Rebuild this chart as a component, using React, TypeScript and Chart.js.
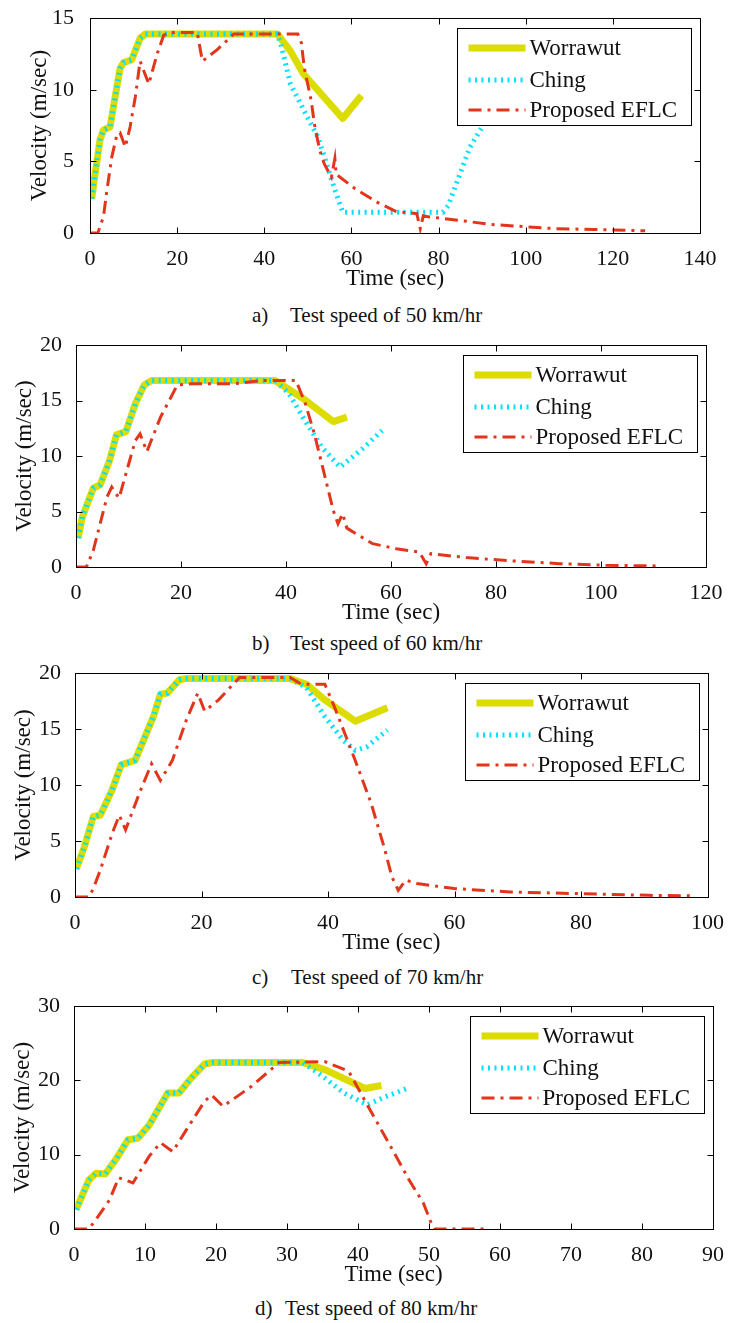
import React, { useEffect, useRef } from 'react';
import { Chart, registerables } from 'chart.js';

Chart.register(...registerables);

// ---------- Data ----------
// Panel a) 50 km/hr
const aWorT = [0.4, 1.2, 2.3, 3.1, 4.6, 5.6, 6.9, 7.7, 9.6, 11.5, 12.7, 43, 46, 49, 58, 62.3];
const aWorV = [2.4, 4.2, 6.5, 7.2, 7.4, 9.2, 11.5, 11.9, 12.1, 13.6, 13.9, 13.9, 12.7, 11.1, 8.0, 9.6];
const aChT = [0.4, 1.2, 2.3, 3.1, 4.6, 5.6, 6.9, 7.7, 9.6, 11.5, 12.7, 43, 43.8, 46, 49.2, 52.3, 53.8, 56, 58, 81, 82.2, 85, 87.2, 90.2, 94];
const aChV = [2.4, 4.2, 6.5, 7.2, 7.4, 9.2, 11.5, 11.9, 12.1, 13.6, 13.9, 13.9, 13.2, 10.4, 8.5, 6.7, 5.3, 3.2, 1.45, 1.45, 1.9, 4.2, 6.0, 7.5, 10.0];
const aEfT = [0, 1.8, 3.1, 3.8, 5, 6.2, 6.9, 8.1, 9.2, 10.4, 11.5, 13.5, 15.4, 16.9, 18, 24.6, 25.8, 29.2, 33, 47.7, 48.5, 49.2, 50.8, 51.5, 52.7, 53.8, 55.4, 56.2, 56.5, 60.8, 66.2, 70.3, 75, 75.8, 76.5, 77.3, 85.6, 91.8, 99.4, 107, 115.5, 127.4];
const aEfV = [0, 0, 1.15, 2.8, 5.3, 6.9, 7.0, 6.0, 7.4, 9.5, 12.0, 10.4, 12.5, 13.8, 14, 14, 12.0, 12.8, 13.9, 13.9, 13.3, 11.5, 9.2, 7.6, 5.8, 4.8, 3.9, 5.2, 4.1, 3.1, 2.1, 1.5, 1.35, 0.3, 1.2, 1.15, 0.85, 0.6, 0.45, 0.3, 0.25, 0.15];

// Panel b) 60 km/hr
const bWorT = [0.4, 1.2, 2.4, 3.3, 4.6, 6.4, 7.7, 9.5, 11.3, 13, 14.4, 37.9, 43.2, 49, 51.6];
const bWorV = [2.6, 4.5, 6.0, 7.1, 7.4, 9.6, 11.9, 12.2, 14.7, 16.4, 16.8, 16.8, 15.2, 13.1, 13.5];
const bChT = [0.4, 1.2, 2.4, 3.3, 4.6, 6.4, 7.7, 9.5, 11.3, 13, 14.4, 38, 40.6, 43.2, 46.8, 50.3, 54.7, 58.3];
const bChV = [2.6, 4.5, 6.0, 7.1, 7.4, 9.6, 11.9, 12.2, 14.7, 16.4, 16.8, 16.8, 15.6, 13.5, 10.8, 9.0, 10.7, 12.3];
const bEfT = [0, 2, 3.3, 5.9, 6.8, 8.2, 11.3, 12.2, 13.5, 16.1, 19.3, 22, 30, 35.2, 41.9, 43.7, 45.4, 47.6, 49, 49.9, 50.8, 51.6, 56.5, 61, 65.4, 66.7, 67.6, 74.3, 83.1, 92, 100.9, 110.6];
const bEfV = [0, 0, 1.5, 6.3, 7.2, 6.2, 11.4, 12.0, 10.4, 13.5, 16.4, 16.5, 16.5, 16.8, 16.8, 14.7, 12.0, 7.8, 5.1, 3.9, 4.8, 3.5, 2.1, 1.65, 1.35, 0.3, 1.2, 0.85, 0.55, 0.3, 0.15, 0.1];

// Panel c) 70 km/hr
const cWorT = [0.2, 1.5, 2.9, 4, 5.9, 7.3, 9.5, 12.4, 13.5, 14.6, 16.5, 17.5, 34, 36.6, 39.5, 44.3, 49.4];
const cWorV = [2.5, 4.5, 7.2, 7.3, 9.6, 11.8, 12.2, 16.1, 18.1, 18.2, 19.4, 19.5, 19.5, 19.0, 17.6, 15.7, 16.9];
const cChT = [0.2, 1.5, 2.9, 4, 5.9, 7.3, 9.5, 12.4, 13.5, 14.6, 16.5, 17.5, 34, 36.6, 39.5, 42.4, 44.3, 46.1, 49.4];
const cChV = [2.5, 4.5, 7.2, 7.3, 9.6, 11.8, 12.2, 16.1, 18.1, 18.2, 19.4, 19.5, 19.5, 18.7, 16.1, 14.0, 13.1, 13.4, 14.9];
const cEfT = [0, 2.2, 2.9, 4, 5.9, 7, 8, 10.2, 12.1, 13.5, 15.4, 17.6, 19.4, 20.5, 22.7, 26, 34, 35.8, 39.5, 41, 44.3, 46.8, 49, 50.1, 51.1, 52.3, 54.1, 60, 68.8, 79.7, 90.7, 97.3];
const cEfV = [0, 0, 0.75, 2.4, 5.7, 7.3, 6.0, 9.3, 11.9, 10.4, 12.2, 15.8, 18.2, 16.6, 17.6, 19.6, 19.6, 19.0, 19.0, 17.0, 12.2, 8.4, 4.2, 1.8, 0.6, 1.5, 1.2, 0.75, 0.45, 0.3, 0.15, 0.1];

// Panel d) 80 km/hr
const dWorT = [0.3, 2.1, 3.1, 4.4, 6, 7.6, 9, 10.6, 13.2, 14.8, 16.5, 18.4, 19.5, 32.2, 35.4, 41, 43.3];
const dWorV = [2.6, 6.6, 7.5, 7.4, 9.5, 12.0, 12.2, 14.0, 18.3, 18.3, 20.3, 22.2, 22.4, 22.4, 21.4, 18.9, 19.3];
const dChT = [0.3, 2.1, 3.1, 4.4, 6, 7.6, 9, 10.6, 13.2, 14.8, 16.5, 18.4, 19.5, 32.2, 34.8, 38, 41.3, 43.9, 46.9];
const dChV = [2.6, 6.6, 7.5, 7.4, 9.5, 12.0, 12.2, 14.0, 18.3, 18.3, 20.3, 22.2, 22.4, 22.4, 20.7, 18.3, 16.7, 17.8, 18.9];
const dEfT = [0, 2.1, 3.4, 5, 6.3, 8.3, 10.6, 12.2, 13.9, 15.8, 18.4, 19.4, 21, 25, 28.9, 35.4, 37.7, 38.7, 41.3, 44.6, 47.2, 49.2, 50.5, 50.8, 58];
const dEfV = [0, 0, 1.7, 3.9, 6.9, 6.2, 9.8, 11.6, 10.4, 13.3, 17.2, 18.0, 16.5, 19.2, 22.4, 22.5, 21.6, 21.2, 16.7, 11.1, 6.6, 3.5, 0.35, 0, 0];

const seriesLabels = ['Worrawut', 'Ching', 'Proposed EFLC'];
const xTitle = 'Time (sec)';
const yTitle = 'Velocity (m/sec)';

const panels = [
  { key: 'a', tag: 'a)', caption: 'Test speed of 50 km/hr', xMax: 140, xStep: 20, yMax: 15, yStep: 5,
    worT: aWorT, worV: aWorV, chT: aChT, chV: aChV, efT: aEfT, efV: aEfV },
  { key: 'b', tag: 'b)', caption: 'Test speed of 60 km/hr', xMax: 120, xStep: 20, yMax: 20, yStep: 5,
    worT: bWorT, worV: bWorV, chT: bChT, chV: bChV, efT: bEfT, efV: bEfV },
  { key: 'c', tag: 'c)', caption: 'Test speed of 70 km/hr', xMax: 100, xStep: 20, yMax: 20, yStep: 5,
    worT: cWorT, worV: cWorV, chT: cChT, chV: cChV, efT: cEfT, efV: cEfV },
  { key: 'd', tag: 'd)', caption: 'Test speed of 80 km/hr', xMax: 90, xStep: 10, yMax: 30, yStep: 10,
    worT: dWorT, worV: dWorV, chT: dChT, chV: dChV, efT: dEfT, efV: dEfV },
];

// ---------- Layout & style ----------
const layouts: Record<string, any> = {
  a: { L: 90, T: 17, R: 700, B: 233, yTitlePad: 26, yTickPad: 8, capTop: 305, capLeft: 252, tagW: 38 },
  b: { L: 76, T: 345, R: 706, B: 567, yTitlePad: 11, yTickPad: 6, capTop: 633, capLeft: 252, tagW: 38 },
  c: { L: 75, T: 673, R: 711, B: 897, yTitlePad: 10, yTickPad: 6, capTop: 967, capLeft: 252, tagW: 39 },
  d: { L: 74, T: 1006, R: 715, B: 1229, yTitlePad: 9, yTickPad: 6, capTop: 1298, capLeft: 255, tagW: 30 },
};

const W = 729;
const PAD_TOP = 20;
const X_AXIS_H = 60;
const SERIF = '"Liberation Serif", serif';
const TEXT = '#111';
const YELLOW = '#dcdc00';
const CYAN = '#00e1ff';
const RED = '#e2361c';

const framePlugin = {
  id: 'matlabFrame',
  afterDatasetsDraw(chart: any) {
    const { ctx, chartArea: a, scales } = chart;
    ctx.save();
    ctx.strokeStyle = '#000';
    ctx.lineWidth = 1;
    const l = Math.round(a.left) + 0.5;
    const r = Math.round(a.right) + 0.5;
    const t = Math.round(a.top) + 0.5;
    const b = Math.round(a.bottom) + 0.5;
    ctx.strokeRect(l, t, r - l, b - t);
    const TL = 6;
    ctx.beginPath();
    scales.x.ticks.forEach((tk: any) => {
      const px = Math.round(scales.x.getPixelForValue(tk.value)) + 0.5;
      ctx.moveTo(px, b); ctx.lineTo(px, b - TL);
      ctx.moveTo(px, t); ctx.lineTo(px, t + TL);
    });
    scales.y.ticks.forEach((tk: any) => {
      const py = Math.round(scales.y.getPixelForValue(tk.value)) + 0.5;
      ctx.moveTo(l, py); ctx.lineTo(l + TL, py);
      ctx.moveTo(r, py); ctx.lineTo(r - TL, py);
    });
    ctx.stroke();
    ctx.restore();
  },
};

const legendPlugin = {
  id: 'boxLegend',
  afterDraw(chart: any) {
    const { ctx, chartArea: a } = chart;
    const ds = chart.data.datasets;
    ctx.save();
    ctx.font = '23px ' + SERIF;
    const tw = Math.max(...ds.map((d: any) => ctx.measureText(d.label).width));
    const w = Math.round(72 + tw + 14);
    const h = 97;
    const x0 = Math.round(a.right - 9 - w) + 0.5;
    const y0 = Math.round(a.top + 10) + 0.5;
    ctx.fillStyle = '#fff';
    ctx.fillRect(x0, y0, w, h);
    ctx.strokeStyle = '#000';
    ctx.lineWidth = 1;
    ctx.strokeRect(x0, y0, w, h);
    const rows = [19, 51, 81];
    ds.forEach((d: any, i: number) => {
      const y = Math.round(y0 + rows[i]);
      ctx.save();
      ctx.strokeStyle = d.borderColor;
      ctx.lineWidth = d.borderWidth;
      ctx.lineCap = 'butt';
      ctx.setLineDash(d.borderDash || []);
      ctx.beginPath();
      ctx.moveTo(x0 + 11, y);
      ctx.lineTo(x0 + 68, y);
      ctx.stroke();
      ctx.restore();
      ctx.fillStyle = TEXT;
      ctx.textAlign = 'left';
      ctx.textBaseline = 'middle';
      ctx.fillText(d.label, x0 + 72, y + 1);
    });
    ctx.restore();
  },
};

function toPts(t: number[], v: number[]) {
  return t.map((x, i) => ({ x, y: v[i] }));
}

function Panel({ p }: { p: any }) {
  const ref = useRef<HTMLCanvasElement>(null);
  const lay = layouts[p.key];
  const h = lay.B - lay.T + PAD_TOP + X_AXIS_H;
  useEffect(() => {
    const canvas = ref.current!;
    const tickFont = { family: SERIF, size: 22 };
    const titleFont = { family: SERIF, size: 23 };
    const chart = new Chart(canvas, {
      type: 'line',
      data: {
        datasets: [
          { label: seriesLabels[0], data: toPts(p.worT, p.worV), borderColor: YELLOW, borderWidth: 7,
            borderJoinStyle: 'round', order: 3, pointRadius: 0, tension: 0, fill: false } as any,
          { label: seriesLabels[1], data: toPts(p.chT, p.chV), borderColor: CYAN, borderWidth: 5,
            borderDash: [2, 4.5], borderCapStyle: 'butt', order: 2, pointRadius: 0, tension: 0, fill: false } as any,
          { label: seriesLabels[2], data: toPts(p.efT, p.efV), borderColor: RED, borderWidth: 3,
            borderDash: [13, 6, 3, 6], borderCapStyle: 'butt', order: 1, pointRadius: 0, tension: 0, fill: false } as any,
        ],
      },
      options: {
        responsive: false,
        animation: false,
        devicePixelRatio: 1,
        events: [],
        layout: { padding: { top: PAD_TOP, left: 0, right: W - lay.R, bottom: 0 } },
        plugins: { legend: { display: false }, tooltip: { enabled: false }, title: { display: false } },
        scales: {
          x: {
            type: 'linear', min: 0, max: p.xMax,
            grid: { display: false }, border: { display: false },
            ticks: { stepSize: p.xStep, autoSkip: false, maxRotation: 0, padding: 5, color: TEXT, font: tickFont },
            title: { display: true, text: xTitle, color: TEXT, font: titleFont, padding: { top: 0, bottom: 0 } },
            afterFit: (s: any) => { s.height = X_AXIS_H; },
          },
          y: {
            type: 'linear', min: 0, max: p.yMax,
            grid: { display: false }, border: { display: false },
            ticks: { stepSize: p.yStep, autoSkip: false, padding: lay.yTickPad, color: TEXT, font: tickFont },
            title: { display: true, text: yTitle, color: TEXT, font: titleFont, padding: { top: lay.yTitlePad, bottom: 0 } },
            afterFit: (s: any) => { s.width = lay.L; },
          },
        },
      } as any,
      plugins: [framePlugin, legendPlugin],
    });
    return () => chart.destroy();
  }, [p]);
  return (
    <>
      <canvas
        ref={ref}
        width={W}
        height={h}
        style={{ position: 'absolute', left: 0, top: lay.T - PAD_TOP, width: W, height: h }}
      />
      <div
        style={{
          position: 'absolute', left: lay.capLeft, top: lay.capTop, fontFamily: SERIF, fontSize: 21,
          lineHeight: '21px', color: TEXT, whiteSpace: 'pre',
        }}
      >
        <span style={{ display: 'inline-block', width: lay.tagW }}>{p.tag}</span>
        <span>{p.caption}</span>
      </div>
    </>
  );
}

export default function App() {
  return (
    <div style={{ position: 'absolute', left: 0, top: 0, width: W, height: 1323, background: '#fff', overflow: 'hidden' }}>
      {panels.map((p) => (
        <Panel key={p.key} p={p} />
      ))}
    </div>
  );
}
